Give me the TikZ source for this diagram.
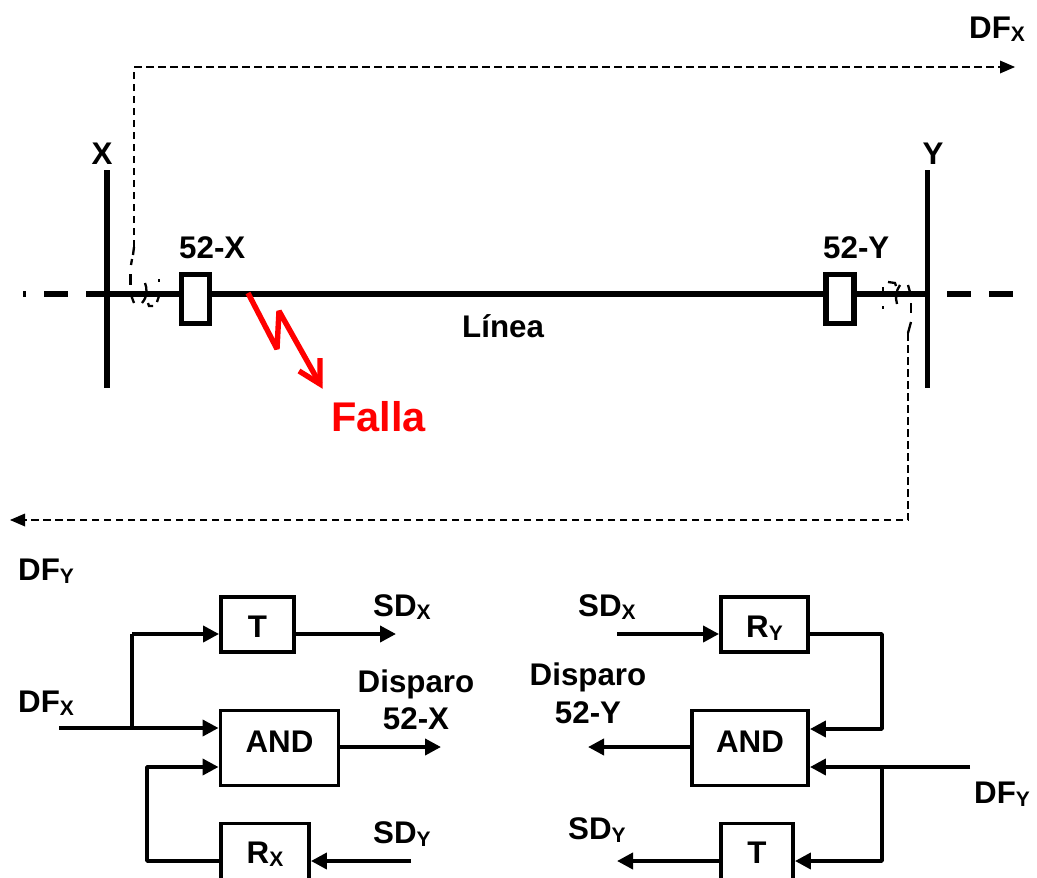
\documentclass[tikz,border=0pt]{standalone}
\usepackage{fontspec}
\setmainfont{Liberation Sans}
\usetikzlibrary{arrows.meta}
\newcommand{\subs}[1]{{\fontsize{21}{21}\selectfont\raisebox{-3pt}{#1}}}
\tikzset{
  x=1pt,y=-1pt,
  lbl/.style={font=\fontsize{31.3}{36}\bfseries\selectfont,inner sep=0pt,anchor=base west},
  lblc/.style={lbl,anchor=base},
  bar/.style={line width=5.6pt},
  busdash/.style={line width=5.2pt},
  cb/.style={draw,line width=5.2pt,fill=white,inner sep=0pt,minimum width=28pt,minimum height=49pt},
  blockbox/.style={draw,line width=3.9pt,inner sep=0pt,font=\fontsize{31.3}{36}\bfseries\selectfont},
  wire/.style={line width=3.8pt},
  arr/.style={wire,-{Triangle[length=16pt,width=16pt]}},
  sig/.style={line width=2.2pt,dash pattern=on 7.5pt off 4.5pt},
  arc/.style={line width=2.3pt},
  sigarr/.style={sig,-{Triangle[length=15pt,width=13pt,line width=0pt]}},
}
\begin{document}
\begin{tikzpicture}
\path[use as bounding box,clip] (0,0) rectangle (1037,878);

% buses and line
\coordinate (xt) at (107,170); \coordinate (xb) at (107,388);
\coordinate (yt) at (927.5,170); \coordinate (yb) at (927.5,388);
\coordinate (xm) at (107,294); \coordinate (ym) at (927.5,294);
\draw[bar] (xt) -- (xb);
\draw[bar] (yt) -- (yb);
\coordinate (ld1) at (23,294); \coordinate (ld2) at (26,294);
\coordinate (ld3) at (44,294); \coordinate (ld4) at (68,294);
\coordinate (ld5) at (86,294);
\draw[busdash] (ld1) -- (ld2);
\draw[busdash] (ld3) -- (ld4);
\draw[busdash] (ld5) -- (xm);
\coordinate (rd1) at (947,294); \coordinate (rd2) at (971,294);
\coordinate (rd3) at (989,294); \coordinate (rd4) at (1013,294);
\draw[busdash] (rd1) -- (rd2);
\draw[busdash] (rd3) -- (rd4);
\draw[line width=5.2pt] (xm) -- (ym);
\node[cb] (cbx) at (195.5,299) {};
\node[cb] (cby) at (840,299) {};

% labels of the single line
\node[lblc] (lx) at (102,164) {X};
\node[lblc] (ly) at (933,164) {Y};
\node[lbl] (l52x) at (179,258) {52-X};
\node[lbl] (l52y) at (823,258) {52-Y};
\node[lbl] (llin) at (462,337) {Línea};
\node[lbl] (ldfxt) at (969,38) {DF\subs{X}};
\node[lbl] (ldfyt) at (18,580) {DF\subs{Y}};
\node[lbl,text=red,font=\fontsize{41.5}{48}\bfseries\selectfont] (lfalla) at (331,431) {Falla};

% fault
\coordinate (f0) at (248,293); \coordinate (f1) at (277,349);
\coordinate (f2) at (279,311); \coordinate (f3) at (320,384);
\coordinate (f4) at (299,371); \coordinate (f5) at (320,358);
\draw[red,line width=5.4pt,miter limit=2] (f0) -- (f1) -- (f2) -- (f3);
\draw[red,line width=5.4pt,line join=miter] (f4) -- (f3) -- (f5);

% teleprotection signal X
\coordinate (sxa) at (134,247); \coordinate (sxb) at (134,67); \coordinate (sxc) at (1015,67);
\draw[sigarr] (sxa) -- (sxb) -- (sxc);
\draw[arc] (134,247) -- (133,255);
\draw[arc] (132,259) -- (131,265);
\draw[arc] (130.5,274) -- (130.5,285);
\draw[arc] (131,295) -- (134,303);
\draw[arc] (145,283) .. controls (147,288) and (148,296) .. (142,303);
\draw[arc] (159,279) -- (159,282);
\draw[arc] (159,296) -- (157,302);
\draw[arc] (148,303) -- (149,306) -- (153,306);

% teleprotection signal Y
\coordinate (sya) at (908,333); \coordinate (syb) at (908,520); \coordinate (syc) at (10,520);
\draw[sigarr] (sya) -- (syb) -- (syc);
\draw[arc] (883,287) -- (883,297);
\draw[arc] (883,306) -- (883,309);
\draw[arc] (888,282) -- (895,283) -- (896,286);
\draw[arc] (900,285) .. controls (896,291) and (895,297) .. (897,304);
\draw[arc] (908,285) -- (910,292);
\draw[arc] (911,303) -- (911,313);
\draw[arc] (911,322) -- (908,333);

% left logic
\node[blockbox,minimum width=73pt,minimum height=55pt,text height=25pt,text depth=0pt] (t1) at (257.5,624.5) {T};
\node[blockbox,minimum width=118pt,minimum height=75pt,text height=22pt,text depth=14pt] (and1) at (279.5,748) {AND};
\node[blockbox,minimum width=88pt,minimum height=67pt,text height=22pt,text depth=10pt] (rx) at (265,857) {R\subs{X}};
\coordinate (dfx) at (59,728);
\coordinate (j1) at (132,728);
\coordinate (t1in) at (132,634);
\coordinate (t1out) at (396,634);
\coordinate (and1in) at (147,767);
\coordinate (rxl) at (147,861);
\coordinate (and1out) at (441,747);
\coordinate (sdyin) at (411,861);
\draw[arr] (dfx) -- (and1.west |- dfx);
\draw[wire,line join=round] (j1) -- (t1in);
\draw[arr,line join=round] (t1in) -- (t1.west |- t1in);
\draw[arr] (t1.east |- t1out) -- (t1out);
\draw[arr,line join=round] (rx.west |- rxl) -- (rxl) -- (and1in) -- (and1.west |- and1in);
\draw[arr] (and1.east |- and1out) -- (and1out);
\draw[arr] (sdyin) -- (rx.east |- sdyin);
\node[lbl] (ldfx) at (18,712) {DF\subs{X}};
\node[lbl] (lsdx1) at (373,616) {SD\subs{X}};
\node[lblc] (ld1a) at (416,692) {Disparo};
\node[lblc] (ld1b) at (416,729) {52-X};
\node[lbl] (lsdy1) at (373,843) {SD\subs{Y}};

% right logic
\node[blockbox,minimum width=87pt,minimum height=55pt,text height=25pt,text depth=0pt] (ry) at (764.5,624.5) {R\subs{Y}};
\node[blockbox,minimum width=116pt,minimum height=75pt,text height=22pt,text depth=14pt] (and2) at (750,748) {AND};
\node[blockbox,minimum width=72pt,minimum height=67pt,text height=22pt,text depth=10pt] (t2) at (757,857) {T};
\coordinate (sdxin) at (617,634);
\coordinate (ryr) at (882,634);
\coordinate (and2a) at (882,729);
\coordinate (dfy) at (970,767);
\coordinate (j2) at (882,767);
\coordinate (t2r) at (882,861);
\coordinate (and2out) at (588,747);
\coordinate (t2out) at (617,861);
\draw[arr] (sdxin) -- (ry.west |- sdxin);
\draw[arr,line join=round] (ry.east |- ryr) -- (ryr) -- (and2a) -- (and2.east |- and2a);
\draw[arr] (dfy) -- (and2.east |- dfy);
\draw[arr,line join=round] (j2) -- (t2r) -- (t2.east |- t2r);
\draw[arr] (and2.west |- and2out) -- (and2out);
\draw[arr] (t2.west |- t2out) -- (t2out);
\node[lbl] (lsdx2) at (578,616) {SD\subs{X}};
\node[lblc] (ld2a) at (588,685) {Disparo};
\node[lblc] (ld2b) at (588,723) {52-Y};
\node[lbl] (lsdy2) at (568,839) {SD\subs{Y}};
\node[lbl] (ldfy) at (974,803) {DF\subs{Y}};
\end{tikzpicture}
\end{document}
